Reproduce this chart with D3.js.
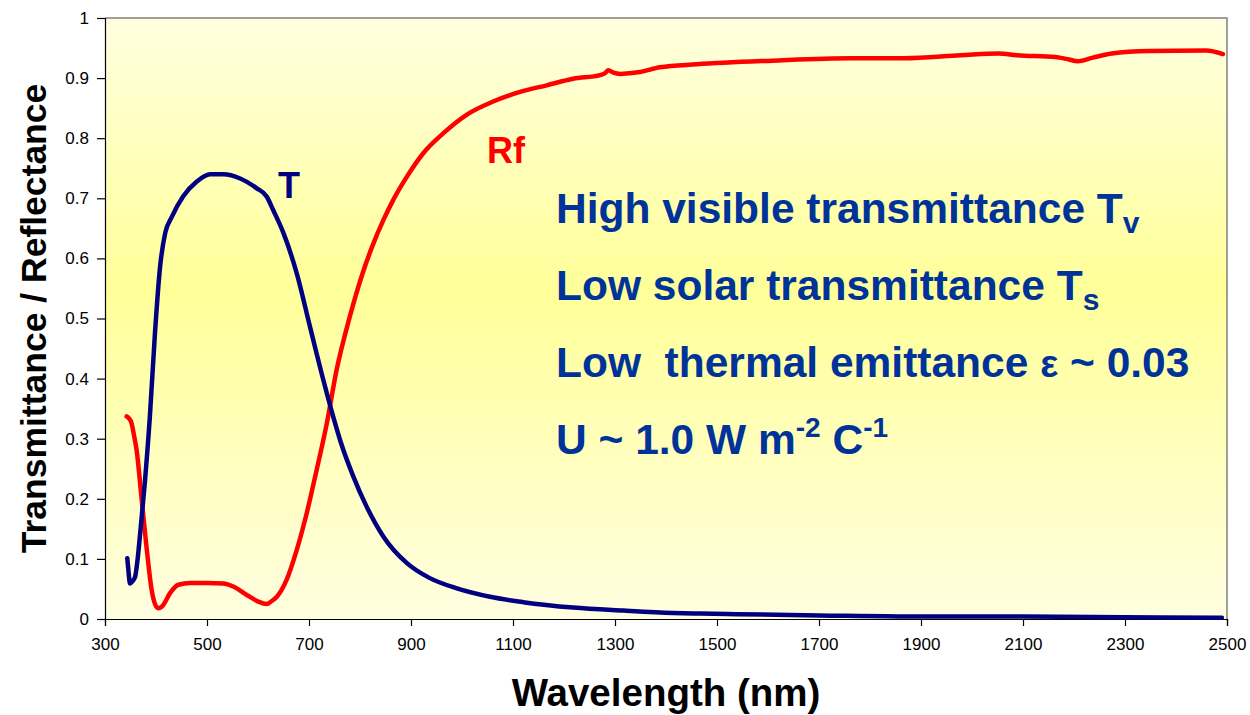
<!DOCTYPE html>
<html>
<head>
<meta charset="utf-8">
<script src="https://cdn.jsdelivr.net/npm/d3@7/dist/d3.min.js"></script>
<style>
  html, body { margin: 0; padding: 0; background: #ffffff; }
  svg { display: block; font-family: "Liberation Sans", Arial, sans-serif; }
</style>
</head>
<body>
<svg id="chart" width="1250" height="715"></svg>
<script>
// ---- Data ----
const tWavelength = [343.7, 346, 349, 353, 359, 364, 369, 378, 388, 398, 408, 418, 431, 453, 480, 506, 532, 565, 597, 617, 630, 650, 676, 702, 728, 748, 762, 787, 813, 846, 892, 937, 990, 1055, 1120, 1218, 1316, 1414, 1467, 1538, 1700, 1931, 2100, 2300, 2490];
const tValues     = [0.101, 0.080, 0.059, 0.062, 0.070, 0.100, 0.143, 0.226, 0.337, 0.476, 0.586, 0.642, 0.669, 0.703, 0.728, 0.740, 0.740, 0.733, 0.717, 0.703, 0.680, 0.642, 0.575, 0.486, 0.398, 0.335, 0.295, 0.237, 0.187, 0.137, 0.093, 0.068, 0.051, 0.037, 0.028, 0.019, 0.014, 0.010, 0.009, 0.008, 0.006, 0.004, 0.004, 0.003, 0.002];

const rfWavelength = [342.5, 347, 352, 357, 362, 372, 382, 391.5, 398, 404.5, 409, 414, 427.5, 444, 467, 500, 532, 551.5, 578, 600.6, 617, 627, 637, 656, 676, 695.5, 715, 735, 754, 780, 805, 825, 846, 865, 892, 924, 963, 1009, 1061, 1114, 1166, 1218, 1271, 1280, 1287, 1297, 1310, 1349, 1388, 1460, 1608, 1763, 1867, 1978, 2052, 2088, 2163, 2190, 2207, 2237, 2274, 2348, 2459, 2492];
const rfValues     = [0.337, 0.334, 0.326, 0.305, 0.281, 0.198, 0.115, 0.048, 0.025, 0.018, 0.019, 0.023, 0.043, 0.057, 0.060, 0.060, 0.059, 0.054, 0.040, 0.029, 0.025, 0.030, 0.037, 0.065, 0.115, 0.176, 0.248, 0.326, 0.414, 0.503, 0.575, 0.622, 0.664, 0.697, 0.736, 0.775, 0.808, 0.839, 0.861, 0.877, 0.888, 0.899, 0.905, 0.908, 0.913, 0.909, 0.907, 0.910, 0.918, 0.923, 0.929, 0.933, 0.933, 0.938, 0.941, 0.938, 0.935, 0.931, 0.928, 0.934, 0.941, 0.945, 0.946, 0.940];

const xTicks = [300, 500, 700, 900, 1100, 1300, 1500, 1700, 1900, 2100, 2300, 2500];
const yTicks = [0, 0.1, 0.2, 0.3, 0.4, 0.5, 0.6, 0.7, 0.8, 0.9, 1];
const yTickLabels = ["0", "0.1", "0.2", "0.3", "0.4", "0.5", "0.6", "0.7", "0.8", "0.9", "1"];

const xTitle = "Wavelength (nm)";
const yTitle = "Transmittance / Reflectance";

// ---- Layout ----
const svg = d3.select("#chart");
const plot = { left: 105, right: 1227, top: 18, bottom: 619 };

const x = d3.scaleLinear().domain([300, 2500]).range([plot.left, plot.right]);
const y = d3.scaleLinear().domain([0, 1]).range([plot.bottom, plot.top]);

// background gradient
const defs = svg.append("defs");
const grad = defs.append("linearGradient").attr("id", "bg").attr("x1", 0).attr("y1", 0).attr("x2", 0).attr("y2", 1);
grad.append("stop").attr("offset", "0%").attr("stop-color", "#ffffe0");
grad.append("stop").attr("offset", "45%").attr("stop-color", "#ffff99");
grad.append("stop").attr("offset", "100%").attr("stop-color", "#fffee0");

svg.append("rect")
  .attr("x", plot.left).attr("y", plot.top)
  .attr("width", plot.right - plot.left).attr("height", plot.bottom - plot.top)
  .attr("fill", "url(#bg)");

// top & right frame
svg.append("path")
  .attr("d", `M${plot.left},${plot.top}H${plot.right}V${plot.bottom}`)
  .attr("fill", "none").attr("stroke", "#808080").attr("stroke-width", 1.5);

// axes
const yAxis = d3.axisLeft(y).tickValues(yTicks).tickSize(8).tickPadding(8)
  .tickFormat((d, i) => yTickLabels[i]);
const gy = svg.append("g").attr("transform", `translate(${plot.left},0)`).call(yAxis);
gy.selectAll("text").attr("font-size", 17).attr("fill", "#000").attr("font-family", "Liberation Sans, Arial, sans-serif");
gy.selectAll("line, path").attr("stroke", "#000").attr("stroke-width", 1.2);

const xAxis = d3.axisBottom(x).tickValues(xTicks).tickSize(7).tickPadding(12)
  .tickFormat(d3.format("d"));
const gx = svg.append("g").attr("transform", `translate(0,${plot.bottom})`).call(xAxis);
gx.selectAll("text").attr("font-size", 17).attr("fill", "#000").attr("font-family", "Liberation Sans, Arial, sans-serif");
gx.selectAll("line, path").attr("stroke", "#000").attr("stroke-width", 1.2);

// curves
const line = d3.line().x(d => x(d[0])).y(d => y(d[1])).curve(d3.curveMonotoneX);
const tData = tWavelength.map((w, i) => [w, tValues[i]]);
const rfData = rfWavelength.map((w, i) => [w, rfValues[i]]);

svg.append("path").datum(rfData).attr("d", line)
  .attr("fill", "none").attr("stroke", "#ff0000").attr("stroke-width", 4.5)
  .attr("stroke-linejoin", "round").attr("stroke-linecap", "round");
svg.append("path").datum(tData).attr("d", line)
  .attr("fill", "none").attr("stroke", "#000080").attr("stroke-width", 4.5)
  .attr("stroke-linejoin", "round").attr("stroke-linecap", "round");

// series labels
svg.append("text").attr("x", 278).attr("y", 198).attr("font-size", 36).attr("font-weight", "bold")
  .attr("fill", "#000080").text("T");
svg.append("text").attr("x", 487).attr("y", 163).attr("font-size", 36).attr("font-weight", "bold")
  .attr("fill", "#ff0000").text("Rf");

// annotation block
const blue = "#003399";
const ann = svg.append("g").attr("font-size", 42.5).attr("font-weight", "bold").attr("fill", blue);

const l1 = ann.append("text").attr("x", 556).attr("y", 223);
l1.append("tspan").text("High visible transmittance T");
l1.append("tspan").attr("font-size", 30).attr("dy", 10).text("v");

const l2 = ann.append("text").attr("x", 556).attr("y", 300);
l2.append("tspan").text("Low solar transmittance T");
l2.append("tspan").attr("font-size", 30).attr("dy", 10).text("s");

const l3 = ann.append("text").attr("x", 556).attr("y", 377).attr("xml:space", "preserve");
l3.append("tspan").text("Low\u00A0 thermal emittance ");
l3.append("tspan").attr("font-size", 38).text("ε");
l3.append("tspan").text(" ~ 0.03");

const l4 = ann.append("text").attr("x", 556).attr("y", 454);
l4.append("tspan").text("U ~ 1.0 W m");
l4.append("tspan").attr("font-size", 28).attr("dy", -17).text("-2");
l4.append("tspan").attr("dy", 17).text(" C");
l4.append("tspan").attr("font-size", 28).attr("dy", -17).text("-1");

// axis titles
svg.append("text")
  .attr("transform", `translate(46,${(plot.top + plot.bottom) / 2}) rotate(-90)`)
  .attr("text-anchor", "middle").attr("font-size", 35.5).attr("font-weight", "bold")
  .attr("fill", "#000").text(yTitle);

svg.append("text")
  .attr("x", (plot.left + plot.right) / 2).attr("y", 706)
  .attr("text-anchor", "middle").attr("font-size", 38.5).attr("font-weight", "bold")
  .attr("fill", "#000").text(xTitle);
</script>
</body>
</html>
